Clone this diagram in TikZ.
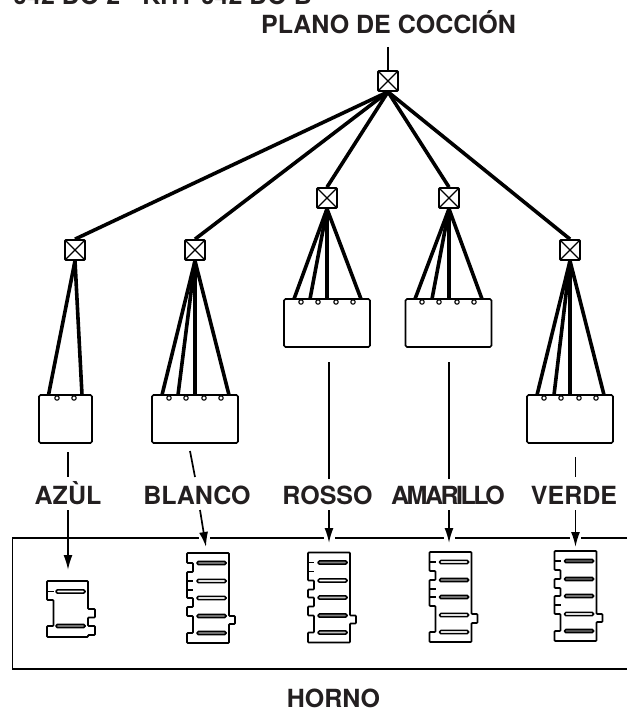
\documentclass[tikz,border=0pt]{standalone}
\usepackage{fontspec}
\setmainfont{TeX Gyre Heros}
\usetikzlibrary{arrows.meta}
\definecolor{inktext}{HTML}{231F20}
\tikzset{
	junction/.style={draw,line width=1.7pt,rounded corners=0.8pt,minimum size=20pt,inner sep=0pt,fill=white,
		path picture={\draw[line width=1.3pt] (path picture bounding box.north west) -- (path picture bounding box.south east)
			(path picture bounding box.north east) -- (path picture bounding box.south west);}},
	portbox/.style={draw,line width=1.6pt,rounded corners=1.5pt,minimum height=48pt,inner sep=0pt},
	wire/.style={line width=3.6pt},
	lead/.style={line width=1.7pt},
	feed/.style={line width=1.7pt,-{Latex[length=15pt,width=9pt]}},
	labeltext/.style={font=\fontsize{25}{25}\selectfont\bfseries,inner sep=0pt,text=inktext,anchor=base},
	gasket/.style={line width=1.7pt,rounded corners=0.8pt},
	slot/.style={line width=1.5pt,rounded corners=1.4pt}
}
\begin{document}
\begin{tikzpicture}[x=1pt,y=-1pt]
		\useasboundingbox (0,0) rectangle (627,709);
		\node[labeltext,anchor=base west] (code) at (13,5) {042 DO 2 - KHT 042 DO B};
		\node[labeltext] (plano) at (388.5,34) {PLANO DE COCCIÓN};
		\node[labeltext] (azultext) at (68,504) {AZÙL};
		\node[labeltext] (blancotext) at (197,504) {BLANCO};
		\node[labeltext] (rossotext) at (327.5,504) {ROSSO};
		\node[labeltext] (amarillotext) at (448,504) {\addfontfeatures{LetterSpace=-10}AMARILLO};
		\node[labeltext] (verdetext) at (574,504) {VERDE};
		\node[labeltext] (horno) at (333.5,707) {HORNO};

		\node[junction] (root) at (388,81) {};
		\node[junction] (azul) at (75,250) {};
		\node[junction] (blanco) at (195,250) {};
		\node[junction] (rosso) at (327,198) {};
		\node[junction] (amarillo) at (449,198) {};
		\node[junction] (verde) at (570,250) {};

		\node[portbox,minimum width=53pt] (azulbox) at (65.5,419) {};
		\node[portbox,minimum width=86pt] (blancobox) at (195,419) {};
		\node[portbox,minimum width=86pt] (rossobox) at (327,323) {};
		\node[portbox,minimum width=86pt] (amarillobox) at (448.5,323) {};
		\node[portbox,minimum width=86pt] (verdebox) at (570,419) {};

		\coordinate (planoend) at (388,47);
		\draw[lead] (planoend) -- (root.north);
		\foreach \n in {azul,blanco,rosso,amarillo,verde}
			\draw[wire] (root.south) -- (\n.north);

		\foreach \n/\x in {azul/48.5,azul/82,blanco/162,blanco/178,blanco/195,blanco/229,verde/537,verde/554,verde/570,verde/604}
			\draw[wire] (\n.south) -- (\x,395);
		\foreach \n/\x in {rosso/294,rosso/310,rosso/327,rosso/361,amarillo/415,amarillo/432,amarillo/449,amarillo/482}
			\draw[wire] (\n.south) -- (\x,299);

		\foreach \x in {57,74,169,186,204,221,544,561,579,596}
			\draw[line width=1.1pt,fill=white] (\x,398) circle (2.2);
		\foreach \x in {301,318,336,353,422,439,457,474}
			\draw[line width=1.1pt,fill=white] (\x,302) circle (2.2);

		\draw[line width=1.7pt] (627,538) -- (12.5,538) -- (12.5,669) -- (627,669);
		\foreach \x in {204,329,449,575}
			\draw[white,line width=3pt] (\x-5.5,538) -- (\x+5.5,538);

		\foreach \n/\xa/\ya/\xb/\yb/\xc/\yc in {azultext/68/452/68/477/68/570,blancotext/190/451/195/477/206/547,rossotext/329/362/329/479/329/543,amarillotext/449/362/449/479/449/543,verdetext/575.5/457/575.5/477/575.5/547}{
			\coordinate (\n a) at (\xa,\ya);
			\coordinate (\n b) at (\xb,\yb);
			\coordinate (\n c) at (\xc,\yc);
			\draw[lead] (\n a) -- (\n b);
		}
		\coordinate (azulfoot) at (68,510);
		\coordinate (blancofoot) at (200,510);
		\coordinate (rossofoot) at (329,510);
		\coordinate (amarillofoot) at (449,510);
		\coordinate (verdefoot) at (575.5,510);
		\draw[feed] (azulfoot) -- (azultextc);
		\draw[feed] (blancofoot) -- (blancotextc);
		\draw[feed] (rossofoot) -- (rossotextc);
		\draw[feed] (amarillofoot) -- (amarillotextc);
		\draw[feed] (verdefoot) -- (verdetextc);

		\begin{scope}[shift={(47,581)}]
			\draw[gasket] (0,0) -- (41,0) -- (41,28) -- (48,28) -- (48,36.5) -- (41,36.5) -- (41,45) -- (48,45) -- (48,54) -- (41,54) -- (41,56) -- (0,56) -- (0,45) -- (6.5,45) -- (6.5,19) -- (0,19) -- cycle;
			\draw[gasket] (0,10.5) -- (6.5,10.5);
			\foreach \y/\c in {10.5/white,45/gray}
				\draw[slot,fill=\c] (9,\y-1.6) rectangle (38,\y+1.6);
		\end{scope}

		\begin{scope}[shift={(187,553)}]
			\draw[gasket] (0,0) -- (42,0) -- (42,63) -- (48,63) -- (48,71) -- (42,71) -- (42,90) -- (0,90) -- (0,80) -- (6,80) -- (6,63) -- (0,63) -- (0,54) -- (6,54) -- (6,45) -- (0,45) -- (0,19) -- (6,19) -- (6,10) -- (0,10) -- cycle;
			\draw[gasket] (0,28) -- (6,28) (0,37) -- (6,37);
			\foreach \y/\c in {10/gray,28/white,45/white,63/gray,80/gray}
				\draw[slot,fill=\c] (10,\y-1.6) rectangle (39,\y+1.6);
		\end{scope}

		\begin{scope}[shift={(308,552.5)}]
			\draw[gasket] (0,0) -- (42,0) -- (42,63) -- (48,63) -- (48,71) -- (42,71) -- (42,90) -- (0,90) -- (0,80) -- (6,80) -- (6,63) -- (0,63) -- (0,54) -- (6,54) -- (6,45) -- (0,45) -- (0,37) -- (6,37) -- (6,28) -- (0,28) -- cycle;
			\draw[gasket] (0,10) -- (6,10) (0,19) -- (6,19);
			\foreach \y/\c in {10/gray,28/white,45/gray!50,63/gray,80/gray!50}
				\draw[slot,fill=\c] (10,\y-1.6) rectangle (39,\y+1.6);
		\end{scope}

		\begin{scope}[shift={(429.5,552)}]
			\draw[gasket] (0,0) -- (42,0) -- (42,62) -- (48,62) -- (48,71) -- (42,71) -- (42,90) -- (0,90) -- (0,80) -- (6,80) -- (6,54) -- (0,54) -- (0,28) -- (6,28) -- (6,19) -- (0,19) -- cycle;
			\draw[gasket] (0,10) -- (6,10) (0,37) -- (6,37) (0,45) -- (6,45);
			\foreach \y/\c in {10/white,28/gray,45/gray,63/white,80/white}
				\draw[slot,fill=\c] (10,\y-1.6) rectangle (39,\y+1.6);
		\end{scope}

		\begin{scope}[shift={(554.5,551)}]
			\draw[gasket] (0,0) -- (42,0) -- (42,63) -- (48,63) -- (48,71) -- (42,71) -- (42,90) -- (0,90) -- (0,80) -- (6,80) -- (6,63) -- (0,63) -- (0,45) -- (6,45) -- (6,37) -- (0,37) -- (0,28) -- (6,28) -- (6,19) -- (0,19) -- cycle;
			\draw[gasket] (0,10) -- (6,10) (0,54) -- (6,54);
			\foreach \y/\c in {10/gray!70!black,28/gray!70!black,45/gray,63/white,80/gray!70!black}
				\draw[slot,fill=\c] (10,\y-1.6) rectangle (39,\y+1.6);
		\end{scope}
		\end{tikzpicture}
\end{document}
